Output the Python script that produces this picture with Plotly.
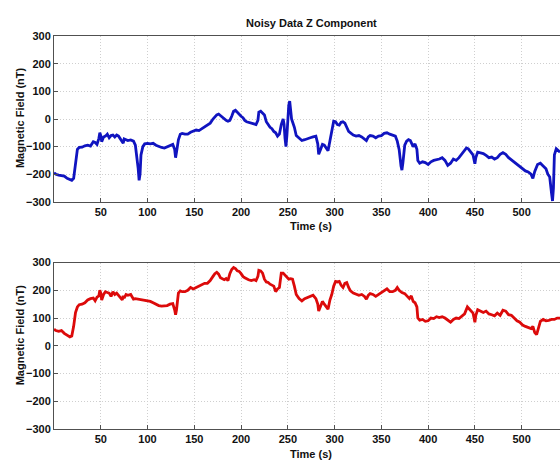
import plotly.graph_objects as go

# ---------------- data ----------------
t_blue = [0, 2, 5, 8, 11, 14, 17, 19, 21, 23,
          25, 27, 30, 33, 36, 39, 42, 44, 46, 48,
          49, 50, 51, 53, 55, 57, 59, 61, 63, 65,
          67, 69, 71, 73, 74, 75, 77, 79, 82, 85,
          87, 89, 90, 91, 92, 93, 95, 97, 100, 103,
          106, 109, 112, 115, 118, 121, 124, 127, 129, 130,
          131, 133, 135, 137, 140, 143, 146, 149, 152, 155,
          158, 161, 164, 167, 170, 172, 174, 176, 178, 180,
          182, 184, 186, 188, 190, 192, 194, 196, 198, 200,
          202, 204, 206, 208, 211, 214, 216, 218, 219, 221,
          223, 225, 227, 229, 231, 233, 235, 237, 239, 241,
          243, 245, 246, 247, 248, 249, 250, 251, 252, 253,
          254, 255, 257, 259, 262, 265, 268, 271, 274, 277,
          280, 282, 283, 285, 287, 289, 291, 293, 295, 297,
          299, 301, 303, 305, 307, 309, 311, 313, 315, 317,
          320, 323, 326, 329, 332, 334, 336, 338, 341, 344,
          347, 350, 353, 356, 359, 362, 365, 367, 369, 371,
          372, 373, 375, 377, 379, 381, 383, 384, 386, 388,
          389, 391, 394, 397, 400, 403, 406, 409, 412, 415,
          418, 421, 424, 427, 430, 433, 436, 439, 441, 443,
          446, 448, 450, 451, 453, 456, 459, 462, 465, 468,
          471, 474, 477, 480, 483, 486, 489, 492, 495, 498,
          501, 504, 507, 510, 512, 514, 517, 520, 523, 526,
          528, 530, 532, 533, 534, 535, 537, 539, 541]
z_blue = [-195, -200, -203, -205, -207, -215, -220, -222, -215, -160,
          -110, -103, -102, -97, -95, -98, -82, -85, -92, -70,
          -50, -60, -82, -65, -62, -55, -68, -60, -58, -65,
          -58, -62, -72, -80, -88, -72, -75, -78, -76, -80,
          -95, -140, -180, -222, -200, -130, -100, -90, -88, -90,
          -88, -95, -100, -103, -105, -100, -97, -92, -110, -140,
          -120, -75, -55, -52, -55, -55, -48, -45, -40, -42,
          -35, -28, -22, -15, 0, 8, 15, 18, 12, 5,
          2, -5, -8, -5, 10, 28, 32, 25, 15, 10,
          5, -5, -10, -12, -15, -18, -20, -5, 25, 28,
          20, 15, -10, -20, -30, -35, -45, -50, -62, -55,
          -20, 0, -20, -70, -100, -60, 0, 50, 65, 30,
          0, -10, -30, -60, -68, -78, -75, -70, -68, -65,
          -62, -90, -128, -110, -92, -95, -105, -115, -80, -50,
          -8, -10, -20, -22, -12, -10, -15, -30, -45, -50,
          -58, -62, -60, -65, -72, -78, -65, -60, -62, -68,
          -62, -60, -52, -50, -55, -60, -62, -80, -110, -170,
          -185, -160, -95, -80, -75, -78, -90, -100, -90, -110,
          -150, -160, -155, -158, -165, -155, -150, -148, -145, -140,
          -150, -168, -160, -145, -150, -140, -128, -115, -105, -108,
          -120, -130, -162, -140, -120, -122, -125, -132, -140, -138,
          -145, -140, -128, -122, -128, -140, -148, -155, -165, -170,
          -178, -188, -192, -200, -215, -190, -165, -160, -170, -180,
          -200, -210, -270, -297, -250, -130, -108, -115, -120]

t_red = [0, 2, 5, 8, 11, 14, 17, 19, 21, 23,
         25, 27, 30, 33, 36, 39, 42, 44, 46, 48,
         49, 50, 51, 53, 55, 57, 59, 61, 63, 65,
         67, 69, 71, 73, 74, 75, 77, 79, 82, 85,
         87, 90, 95, 100, 103, 106, 109, 112, 115, 118,
         121, 124, 127, 129, 130, 131, 133, 135, 137, 140,
         143, 146, 149, 152, 155, 158, 161, 164, 167, 170,
         172, 174, 176, 178, 180, 182, 184, 186, 188, 190,
         192, 194, 196, 198, 200, 202, 204, 206, 208, 211,
         214, 216, 218, 219, 221, 223, 225, 227, 229, 231,
         233, 235, 237, 239, 241, 243, 245, 247, 249, 251,
         253, 255, 257, 259, 262, 265, 268, 271, 274, 277,
         280, 282, 283, 285, 287, 289, 291, 293, 295, 297,
         299, 301, 303, 305, 307, 309, 311, 313, 315, 317,
         320, 323, 326, 329, 332, 334, 336, 338, 341, 344,
         347, 350, 353, 356, 359, 362, 365, 367, 369, 372,
         375, 378, 380, 382, 384, 386, 388, 389, 391, 394,
         397, 400, 403, 406, 409, 412, 415, 418, 421, 424,
         427, 430, 433, 436, 439, 442, 445, 448, 450, 451,
         453, 456, 459, 462, 465, 468, 471, 474, 477, 480,
         483, 486, 489, 492, 495, 498, 501, 504, 507, 510,
         512, 514, 516, 518, 520, 523, 526, 529, 532, 535,
         538, 541]
z_red = [60, 55, 52, 55, 45, 38, 32, 35, 70, 120,
         140, 148, 150, 155, 165, 170, 172, 162, 175, 180,
         200, 190, 165, 185, 195, 192, 190, 178, 195, 185,
         190, 182, 175, 165, 180, 172, 185, 182, 185, 168,
         170, 168, 165, 162, 160, 155, 150, 145, 143, 145,
         145, 150, 152, 130, 112, 130, 190, 198, 195, 195,
         200, 210, 205, 210, 215, 220, 225, 225, 235, 250,
         260, 265, 258, 245, 240, 238, 242, 235, 260, 275,
         282, 278, 270, 268, 260, 250, 245, 240, 238, 235,
         238, 235, 250, 272, 270, 262, 240, 230, 228, 222,
         218, 215, 195, 205, 210, 262, 262, 255, 250, 240,
         242, 240, 215, 185, 170, 162, 170, 175, 178, 182,
         170, 150, 125, 145, 160, 150, 140, 132, 165, 185,
         215, 232, 230, 232, 218, 210, 225, 228, 210, 198,
         190, 185, 182, 185, 178, 168, 182, 188, 185, 178,
         185, 190, 200, 205, 195, 195, 200, 210, 200, 192,
         188, 178, 170, 180, 160, 155, 140, 100, 92, 95,
         88, 90, 100, 98, 105, 102, 105, 100, 92, 85,
         95, 100, 98, 108, 115, 140, 130, 118, 85, 110,
         130, 125, 120, 125, 115, 112, 108, 118, 110, 128,
         125, 112, 110, 100, 90, 85, 75, 70, 65, 62,
         70, 48, 40, 60, 88, 95, 90, 92, 95, 95,
         100, 100]

x_ticks = [50, 100, 150, 200, 250, 300, 350, 400, 450, 500]
y_ticks = [-300, -200, -100, 0, 100, 200, 300]

title_text = "Noisy Data Z Component"
x_label = "Time (s)"
y_label = "Magnetic Field (nT)"

# ---------------- figure ----------------
W, H = 560, 466
ML = 54
FONT = "Liberation Sans, Arial, sans-serif"

fig = go.Figure()
fig.add_trace(go.Scatter(x=t_blue, y=z_blue, mode="lines",
                         line=dict(color="#1014c0", width=2.8),
                         xaxis="x", yaxis="y", showlegend=False))
fig.add_trace(go.Scatter(x=t_red, y=z_red, mode="lines",
                         line=dict(color="#dc0a0a", width=2.8),
                         xaxis="x2", yaxis="y2", showlegend=False))

def py(p):  # pixel y -> paper fraction
    return (H - p) / H

def px(p):  # pixel x -> paper fraction (paper spans plot area horizontally)
    return (p - ML) / (W - ML)

axis_common = dict(
    showgrid=True, gridcolor="#cfcfcf", griddash="1px,2px", gridwidth=1,
    showline=True, linecolor="#505050", linewidth=1,
    ticks="inside", ticklen=4, tickcolor="#505050",
    zeroline=False,
    tickfont=dict(family=FONT, size=11, color="#111111", weight="bold"),
)

xr = [0, 541]
fig.update_layout(
    width=W, height=H,
    margin=dict(l=ML, r=0, t=0, b=0),
    paper_bgcolor="white", plot_bgcolor="white",
    xaxis=dict(domain=[0, 1], range=xr, tickvals=x_ticks, anchor="y",
               mirror=True, **axis_common),
    yaxis=dict(domain=[py(201), py(31)], range=[-300, 300], tickvals=y_ticks,
               anchor="x", **axis_common),
    xaxis2=dict(domain=[0, 1], range=xr, tickvals=x_ticks, anchor="y2",
                mirror=True, **axis_common),
    yaxis2=dict(domain=[py(434.3), py(263.3)], range=[-300, 300], tickvals=y_ticks,
                anchor="x2", **axis_common),
)

ann_font = dict(family=FONT, size=11, color="#111111", weight="bold")
anns = [
    dict(text=title_text, x=px(311), y=py(17), xref="paper", yref="paper",
         showarrow=False, font=ann_font, xanchor="center", yanchor="middle"),
    dict(text=x_label, x=px(311), y=py(226), xref="paper", yref="paper",
         showarrow=False, font=ann_font, xanchor="center", yanchor="middle"),
    dict(text=x_label, x=px(311), y=py(460), xref="paper", yref="paper",
         showarrow=False, font=ann_font, xanchor="center", yanchor="middle"),
    dict(text=y_label, x=px(20), y=py(115), xref="paper", yref="paper",
         showarrow=False, font=ann_font, textangle=-90,
         xanchor="center", yanchor="middle"),
    dict(text=y_label, x=px(20), y=py(338), xref="paper", yref="paper",
         showarrow=False, font=ann_font, textangle=-90,
         xanchor="center", yanchor="middle"),
]
fig.update_layout(annotations=anns)

fig.write_html("out.html")
